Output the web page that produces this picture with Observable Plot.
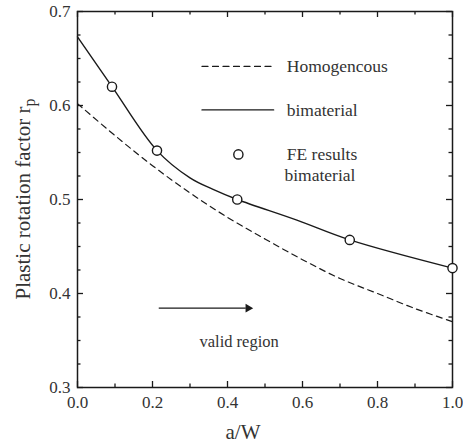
<!DOCTYPE html>
<html>
<head>
<meta charset="utf-8">
<script src="https://cdn.jsdelivr.net/npm/d3@7"></script>
<script src="https://cdn.jsdelivr.net/npm/@observablehq/plot@0.6"></script>
<style>
  html, body { margin: 0; padding: 0; background: #fff; }
  #chart svg { display: block; }
</style>
</head>
<body>
<div id="chart"></div>
<script>
// ---- data ----
// bimaterial curve (solid)
const bimatAW = [0, 0.092, 0.212, 0.3, 0.36, 0.426, 0.585, 0.726, 1.0];
const bimatRP = [0.673, 0.620, 0.552, 0.523, 0.511, 0.500, 0.478, 0.457, 0.427];
// homogeneous curve (dashed)
const homoAW = [0, 0.1, 0.2, 0.3, 0.4, 0.5, 0.6, 0.7, 0.8, 0.9, 1.0];
const homoRP = [0.602, 0.568, 0.536, 0.507, 0.481, 0.458, 0.436, 0.416, 0.400, 0.384, 0.370];
// FE results bimaterial (circles)
const feAW = [0.092, 0.212, 0.426, 0.726, 1.0];
const feRP = [0.620, 0.552, 0.500, 0.457, 0.427];
// axes
const xTicks = [0, 0.2, 0.4, 0.6, 0.8, 1.0];
const xMinor = [0.1, 0.3, 0.5, 0.7, 0.9];
const yTicks = [0.3, 0.4, 0.5, 0.6, 0.7];
const yMinor = [0.325, 0.35, 0.375, 0.425, 0.45, 0.475, 0.525, 0.55, 0.575, 0.625, 0.65, 0.675];
const xLabel = "a/W";
const yLabel = "Plastic rotation factor r";
const yLabelSub = "p";
const legendLabels = ["Homogencous", "bimaterial", "FE results", "bimaterial"];
const noteLabel = "valid region";

// ---- tables built from the arrays ----
const bimat = bimatAW.map((x, i) => ({x, y: bimatRP[i]}));
const homo = homoAW.map((x, i) => ({x, y: homoRP[i]}));
const fe = feAW.map((x, i) => ({x, y: feRP[i]}));

const FONT = "Liberation Serif";
const INK = "#1a1a1a";
const TXT = "#333";

const W = 463, H = 446, ML = 77, MR = 11, MT = 11, MB = 59;
const FW = W - ML - MR, FH = H - MT - MB;
const X0 = 0, X1 = 1, Y0 = 0.3, Y1 = 0.7;
// inward tick lengths in pixels, converted to data units for the rules
const MAJ = 6, MIN = 3.5;
const dy = px => px / FH * (Y1 - Y0);
const dx = px => px / FW * (X1 - X0);
const tk = {stroke: INK, strokeWidth: 1.3};

const chart = Plot.plot({
  width: W,
  height: H,
  marginLeft: ML,
  marginRight: MR,
  marginTop: MT,
  marginBottom: MB,
  style: {fontFamily: FONT, background: "#fff", color: INK},
  x: {domain: [X0, X1], axis: null},
  y: {domain: [Y0, Y1], axis: null},
  marks: [
    // inward ticks on all four sides
    Plot.ruleX(xTicks, {x: d => d, y1: Y0, y2: Y0 + dy(MAJ), ...tk}),
    Plot.ruleX(xMinor, {x: d => d, y1: Y0, y2: Y0 + dy(MIN), ...tk}),
    Plot.ruleX(xTicks, {x: d => d, y1: Y1, y2: Y1 - dy(MAJ), ...tk}),
    Plot.ruleX(xMinor, {x: d => d, y1: Y1, y2: Y1 - dy(MIN), ...tk}),
    Plot.ruleY(yTicks, {y: d => d, x1: X0, x2: X0 + dx(MAJ), ...tk}),
    Plot.ruleY(yMinor, {y: d => d, x1: X0, x2: X0 + dx(MIN), ...tk}),
    Plot.ruleY(yTicks, {y: d => d, x1: X1, x2: X1 - dx(MAJ), ...tk}),
    Plot.ruleY(yMinor, {y: d => d, x1: X1, x2: X1 - dx(MIN), ...tk}),
    // tick labels
    Plot.text(xTicks, {x: d => d, y: Y0, text: d => d.toFixed(1), dy: 15, fontSize: 17, fontFamily: FONT, fill: TXT}),
    Plot.text(yTicks, {x: X0, y: d => d, text: d => d.toFixed(1), dx: -7, textAnchor: "end", fontSize: 17, fontFamily: FONT, fill: TXT}),
    Plot.frame({stroke: INK, strokeWidth: 1.5}),
    // curves
    Plot.line(homo, {x: "x", y: "y", curve: "catmull-rom", stroke: INK, strokeWidth: 1.2, strokeDasharray: "6,4.5"}),
    Plot.line(bimat, {x: "x", y: "y", curve: "catmull-rom", stroke: INK, strokeWidth: 1.4}),
    Plot.dot(fe, {x: "x", y: "y", r: 4.6, stroke: INK, strokeWidth: 1.4, fill: "#fff"}),
    // legend
    Plot.line([{x: 0.332, y: 0.6416}, {x: 0.523, y: 0.6416}], {x: "x", y: "y", stroke: INK, strokeWidth: 1.2, strokeDasharray: "6,4.5"}),
    Plot.line([{x: 0.332, y: 0.5953}, {x: 0.523, y: 0.5953}], {x: "x", y: "y", stroke: INK, strokeWidth: 1.4}),
    Plot.dot([{x: 0.429, y: 0.548}], {x: "x", y: "y", r: 4.6, stroke: INK, strokeWidth: 1.4, fill: "#fff"}),
    Plot.text([
      {x: 0.558, y: 0.6416, t: legendLabels[0]},
      {x: 0.558, y: 0.5953, t: legendLabels[1]},
      {x: 0.558, y: 0.548, t: legendLabels[2]},
      {x: 0.552, y: 0.526, t: legendLabels[3]}
    ], {x: "x", y: "y", text: "t", textAnchor: "start", fontSize: 17.5, fontFamily: FONT, fill: TXT}),
    // valid region arrow
    Plot.ruleY([0.3844], {y: d => d, x1: 0.218, x2: 0.45, stroke: INK, strokeWidth: 1.4}),
    Plot.dot([{x: 0.455, y: 0.3844}], {x: "x", y: "y", symbol: "triangle2", rotate: 90, r: 4.2, fill: INK, stroke: "none"}),
    Plot.text([{x: 0.431, y: 0.349, t: noteLabel}], {x: "x", y: "y", text: "t", fontSize: 16.5, fontFamily: FONT, fill: TXT})
  ]
});

document.getElementById("chart").appendChild(chart);

// axis titles as real text
const svg = d3.select(chart);
svg.append("text")
  .attr("x", 243).attr("y", 439)
  .attr("text-anchor", "middle")
  .attr("font-size", 21).attr("fill", TXT)
  .text(xLabel);
const yl = svg.append("text")
  .attr("transform", "translate(30,199) rotate(-90)")
  .attr("text-anchor", "middle")
  .attr("font-size", 21).attr("fill", TXT);
yl.append("tspan").text(yLabel);
yl.append("tspan").attr("dy", 5).attr("font-size", 16).text(yLabelSub);
svg.selectAll("text").attr("font-family", FONT).style("font-family", FONT);
</script>
</body>
</html>
